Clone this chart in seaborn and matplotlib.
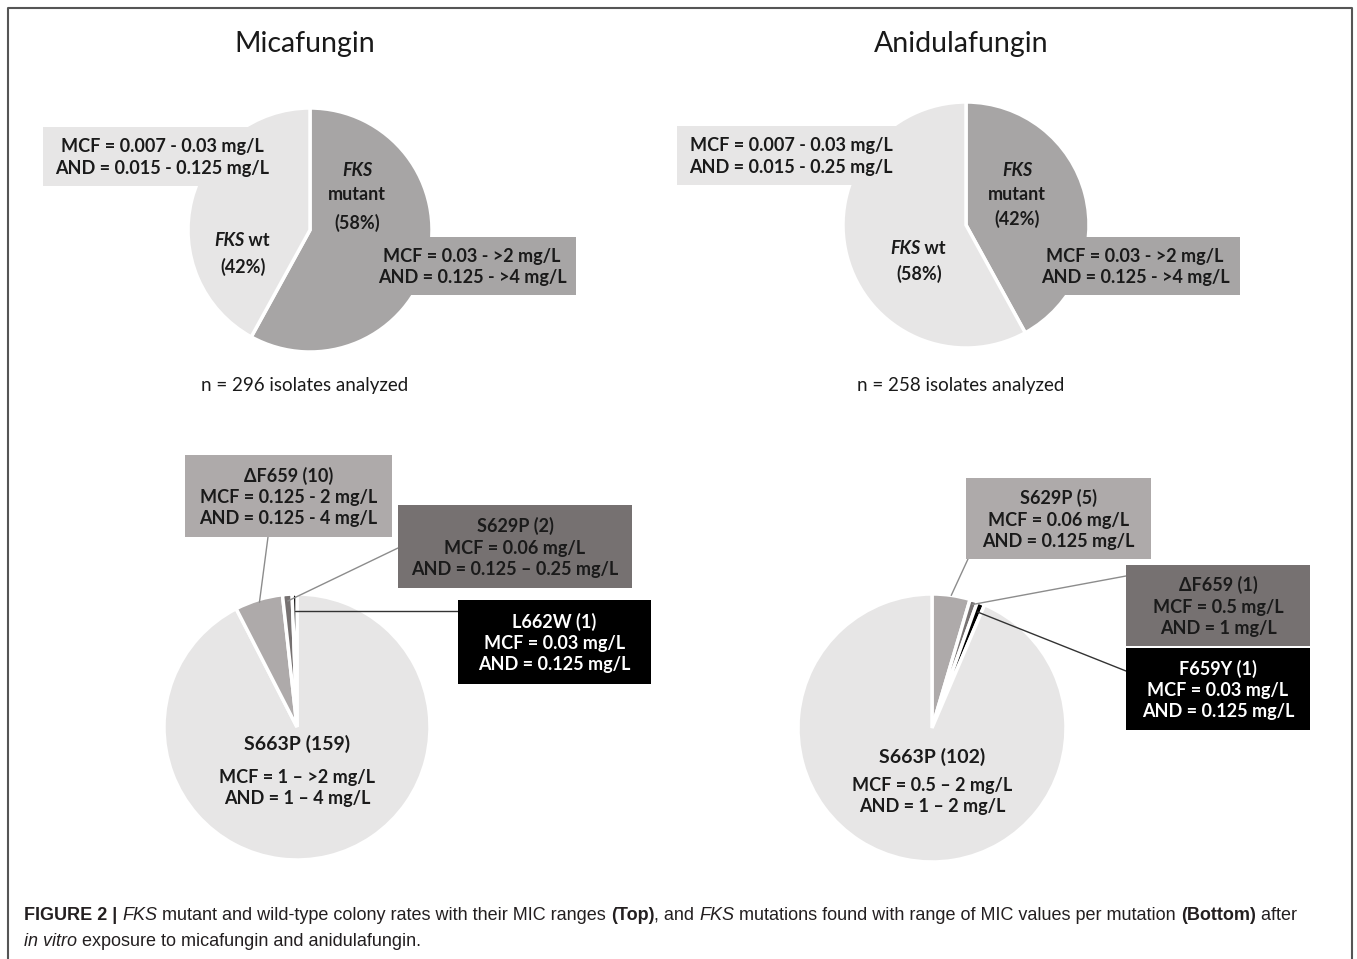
import numpy as np
import matplotlib
matplotlib.use("Agg")
import matplotlib.pyplot as plt
import seaborn as sns
from matplotlib.patches import Rectangle

# ---- data ----
drugs = ["Micafungin", "Anidulafungin"]
n_isolates = [296, 258]
mutant_pct = [58, 42]
wt_pct = [42, 58]
wt_mcf = ["0.007 - 0.03", "0.007 - 0.03"]
wt_and = ["0.015 - 0.125", "0.015 - 0.25"]
mut_mcf = ["0.03 - >2", "0.03 - >2"]
mut_and = ["0.125 - >4", "0.125 - >4"]

mica_mut = ["S663P", "ΔF659", "S629P", "L662W"]
mica_cnt = [159, 10, 2, 1]
mica_mcf = ["1 – >2", "0.125 - 2", "0.06", "0.03"]
mica_and = ["1 – 4", "0.125 - 4", "0.125 – 0.25", "0.125"]

anid_mut = ["S629P", "ΔF659", "F659Y", "S663P"]
anid_cnt = [5, 1, 1, 102]
anid_mcf = ["0.06", "0.5", "0.03", "0.5 – 2"]
anid_and = ["0.125", "1", "0.125", "1 – 2"]

# colours
light = "#e7e6e6"
mid = "#a7a5a5"
mid2 = "#aeaaaa"
dark = "#767171"
blk = "#000000"

sns.set_theme(style="white")
plt.rcParams['font.family'] = ['Lato', 'DejaVu Sans']

W, H = 1357, 959
FS = 13
fig = plt.figure(figsize=(W / 100, H / 100), dpi=100)
ax = fig.add_axes([0, 0, 1, 1])


def pie(cx, cy, r, vals, cols, expl=None):
    w, _ = ax.pie(vals, colors=cols, center=(cx, cy), radius=r, startangle=-90,
                  counterclock=True, explode=expl, frame=True,
                  wedgeprops=dict(edgecolor="white", linewidth=2.5))
    return w


def rim(w, cx, cy, r, f=1.0):
    t = np.deg2rad((w.theta1 + w.theta2) / 2)
    return cx + f * r * np.cos(t), cy + f * r * np.sin(t)


def box(x0, y0, x1, y1, col, lines, tc="#1a1a1a", fs=FS, ls=1.3):
    ax.add_patch(Rectangle((x0, y0), x1 - x0, y1 - y0, facecolor=col,
                           edgecolor="none", zorder=5))
    ax.text((x0 + x1) / 2, (y0 + y1) / 2 + 1, "\n".join(lines), ha="center", va="center",
            fontsize=fs, fontweight="bold", color=tc, linespacing=ls, zorder=6)


def fks_label(x, y, rest, fs=FS):
    t = ax.text(x - 14, y, "FKS", ha="center", va="center", fontsize=fs,
                fontweight="bold", style="italic", color="#1a1a1a", zorder=6)
    ax.annotate(rest, xy=(1, 0), xycoords=t, va="bottom", ha="left", fontsize=fs,
                fontweight="bold", color="#1a1a1a", zorder=6)


# ---- top pies ----
top_geo = [(310, 230, 122), (966, 225, 123)]
wt_box = [(43, 127, 282), (677, 126, 905)]
mut_box = [(368, 237, 576), (1030, 237, 1240)]
for i in range(2):
    cx, cy, r = top_geo[i]
    pie(cx, cy, r, [mutant_pct[i], wt_pct[i]], [mid, light])
    ax.text(cx - 5, 44, drugs[i], ha="center", va="center", fontsize=20.5, color="#1a1a1a")
    ax.text(cx - 5, 385, f"n = {n_isolates[i]} isolates analyzed", ha="center",
            va="center", fontsize=13.5, color="#1a1a1a")
    x0, y0, x1 = wt_box[i]
    box(x0, y0, x1, y0 + 59, light, [f"MCF = {wt_mcf[i]} mg/L", f"AND = {wt_and[i]} mg/L"])
    x0, y0, x1 = mut_box[i]
    box(x0, y0, x1, y0 + 58, mid, [f"MCF = {mut_mcf[i]} mg/L", f"AND = {mut_and[i]} mg/L"])

# inside labels
for (mx, wx, wy), mp, wp in zip([(357, 243, 241), (1017, 919, 248)], mutant_pct, wt_pct):
    ax.text(mx, 170, "FKS", ha="center", va="center", fontsize=FS, fontweight="bold",
            style="italic", color="#1a1a1a", zorder=6)
    ax.text(mx, 195, "mutant", ha="center", va="center", fontsize=FS,
            fontweight="bold", color="#1a1a1a", zorder=6)
    ax.text(mx, 223 if mp == 58 else 219, f"({mp}%)", ha="center", va="center",
            fontsize=FS, fontweight="bold", color="#1a1a1a", zorder=6)
    fks_label(wx, wy, " wt")
    ax.text(wx, wy + 26, f"({wp}%)", ha="center", va="center", fontsize=FS,
            fontweight="bold", color="#1a1a1a", zorder=6)

# ---- bottom left: micafungin mutations ----
cx, cy, r = 297, 727, 133
wm = pie(cx, cy, r, mica_cnt, [light, mid2, dark, blk], [0, 0.02, 0.02, 0.02])
ax.text(cx, 744, f"{mica_mut[0]} ({mica_cnt[0]})", ha="center", va="center",
        fontsize=14, fontweight="bold", color="#1a1a1a")
ax.text(cx, 788, f"MCF = {mica_mcf[0]} mg/L\nAND = {mica_and[0]} mg/L", ha="center",
        va="center", fontsize=FS, fontweight="bold", color="#1a1a1a", linespacing=1.3)
mica_boxes = [None, (185, 455, 392, 537, mid2, "#1a1a1a", (268, 537)),
              (398, 505, 632, 588, dark, "#1a1a1a", (398, 548)),
              (458, 600, 651, 684, blk, "white", (458, 611))]
for k in range(1, 4):
    x0, y0, x1, y1, c, tc, anc = mica_boxes[k]
    box(x0, y0, x1, y1, c, [f"{mica_mut[k]} ({mica_cnt[k]})",
                            f"MCF = {mica_mcf[k]} mg/L", f"AND = {mica_and[k]} mg/L"], tc=tc)
    px, py = rim(wm[k], cx, cy, r, [0.98, 0.95, 0.87][k - 1])
    if k == 3:
        py = anc[1]
    ax.plot([anc[0], px], [anc[1], py], color="#8c8c8c" if k < 3 else "#333333",
            lw=1, zorder=4)

# ---- bottom right: anidulafungin mutations ----
cx, cy, r = 932, 728, 134
wa = pie(cx, cy, r, anid_cnt, [mid2, dark, blk, light], [0.02, 0.03, 0.03, 0])
ax.text(cx, 757, f"{anid_mut[3]} ({anid_cnt[3]})", ha="center", va="center",
        fontsize=14, fontweight="bold", color="#1a1a1a")
ax.text(cx, 796, f"MCF = {anid_mcf[3]} mg/L\nAND = {anid_and[3]} mg/L", ha="center",
        va="center", fontsize=FS, fontweight="bold", color="#1a1a1a", linespacing=1.3)
anid_boxes = [(966, 478, 1151, 559, mid2, "#1a1a1a", (968, 559)),
              (1126, 565, 1310, 646, dark, "#1a1a1a", (1126, 576)),
              (1126, 648, 1310, 730, blk, "white", (1126, 671))]
for k in range(3):
    x0, y0, x1, y1, c, tc, anc = anid_boxes[k]
    box(x0, y0, x1, y1, c, [f"{anid_mut[k]} ({anid_cnt[k]})",
                            f"MCF = {anid_mcf[k]} mg/L", f"AND = {anid_and[k]} mg/L"], tc=tc)
    px, py = rim(wa[k], cx, cy, r, [1.0, 0.97, 0.93][k])
    ax.plot([anc[0], px], [anc[1], py], color="#8c8c8c" if k < 2 else "#333333",
            lw=1, zorder=4)

# ---- frame ----
ax.plot([8, 8, 1352, 1352], [H, 8, 8, H], color="#555555", lw=1.5, zorder=10)


# ---- caption ----
def rich(x, y, parts, fs=13):
    prev = None
    for txt, wt, st in parts:
        kw = dict(fontsize=fs, fontweight=wt, style=st, color="#231f20",
                  family=["Liberation Sans", "DejaVu Sans"])
        if prev is None:
            prev = ax.text(x, y, txt, ha="left", va="bottom", **kw)
        else:
            prev = ax.annotate(txt, xy=(1, 0), xycoords=prev, ha="left", va="bottom", **kw)


N, B, I = ("normal", "normal"), ("bold", "normal"), ("normal", "italic")
rich(24, 924, [("FIGURE 2 | ", *B), ("FKS", *I),
               (" mutant and wild-type colony rates with their MIC ranges ", *N),
               ("(Top)", *B), (", and ", *N), ("FKS", *I),
               (" mutations found with range of MIC values per mutation ", *N),
               ("(Bottom)", *B), (" after", *N)])
rich(24, 950, [("in vitro", *I), (" exposure to micafungin and anidulafungin.", *N)])

ax.set_xlim(0, W)
ax.set_ylim(H, 0)
ax.set_aspect("equal")
ax.axis("off")
fig.savefig("out.png", dpi=100)
